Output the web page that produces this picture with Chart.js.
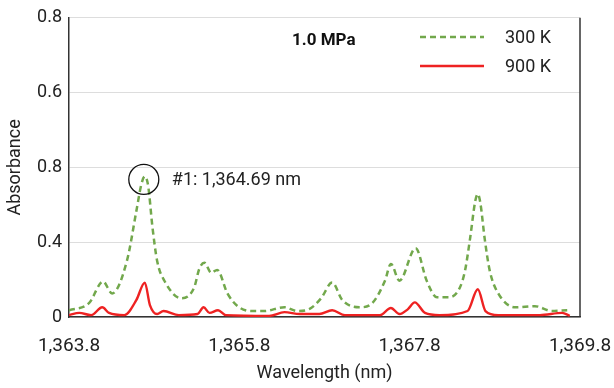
<!DOCTYPE html>
<html>
<head>
<meta charset="utf-8">
<script src="https://cdn.jsdelivr.net/npm/chart.js@4/dist/chart.umd.min.js"></script>
<style>
  html, body { margin: 0; padding: 0; background: #fff; }
  #wrap { width: 614px; height: 388px; position: relative; }
</style>
</head>
<body>
<div id="wrap"><canvas id="myChart"></canvas></div>
<script>
// wavelengths (nm) and absorbance
const wl300 = [1363.80, 1364.035, 1364.20, 1364.306, 1364.48, 1364.59, 1364.65, 1364.69, 1364.73, 1364.78, 1364.835, 1364.92,
  1365.12, 1365.27, 1365.33, 1365.39, 1365.47, 1365.54, 1365.66, 1365.78, 1365.94, 1366.09,
  1366.33, 1366.48, 1366.62, 1366.76, 1366.89, 1367.01, 1367.21, 1367.36, 1367.51, 1367.58,
  1367.68, 1367.87, 1368.00, 1368.12, 1368.27, 1368.39, 1368.45, 1368.51, 1368.57, 1368.60, 1368.63, 1368.68,
  1368.74, 1368.84, 1369.04, 1369.27, 1369.47, 1369.65];
const abs300 = [0.018, 0.037, 0.095, 0.063, 0.150, 0.282, 0.355, 0.376, 0.350, 0.240, 0.150, 0.097,
  0.050, 0.079, 0.129, 0.145, 0.118, 0.126, 0.063, 0.029, 0.016, 0.016,
  0.026, 0.016, 0.021, 0.050, 0.092, 0.045, 0.026, 0.037, 0.097, 0.142,
  0.097, 0.184, 0.097, 0.053, 0.053, 0.079, 0.124, 0.211, 0.310, 0.329, 0.305, 0.211,
  0.124, 0.063, 0.026, 0.029, 0.016, 0.018];

const wl900 = [1363.80, 1363.92, 1364.06, 1364.19, 1364.27, 1364.45, 1364.59, 1364.69, 1364.75, 1364.835,
  1364.91, 1365.09, 1365.31, 1365.38, 1365.45, 1365.55, 1365.64, 1366.15, 1366.33, 1366.51,
  1366.74, 1366.89, 1367.04, 1367.45, 1367.58, 1367.68, 1367.78, 1367.86, 1367.98, 1368.15,
  1368.48, 1368.60, 1368.69, 1368.84, 1369.33, 1369.59, 1369.68];
const abs900 = [0.005, 0.011, 0.005, 0.026, 0.011, 0.005, 0.045, 0.092, 0.032, 0.008,
  0.016, 0.005, 0.008, 0.026, 0.011, 0.018, 0.005, 0.003, 0.013, 0.008,
  0.008, 0.018, 0.005, 0.005, 0.024, 0.008, 0.021, 0.039, 0.011, 0.005,
  0.016, 0.074, 0.016, 0.005, 0.005, 0.011, 0.003];

const xTicks = [1363.8, 1365.8, 1367.8, 1369.8];
const yTickLabels = ['0', '0.4', '0.8', '0.6', '0.8'];
const seriesNames = ['300 K', '900 K'];
const peakWl = 1364.69;
const peakLabel = '#1: 1,364.69 nm';
const pressureLabel = '1.0 MPa';

const green = '#72a84c';
const red = '#ee2222';
const FONT = 'Roboto, "Liberation Sans", sans-serif';

function pts(xs, ys) {
  return xs.map((x, i) => ({ x: x, y: ys[i] }));
}

const overlay = {
  id: 'overlay',
  afterDraw(chart) {
    const ctx = chart.ctx;
    const area = chart.chartArea;
    const xs = chart.scales.x;
    const ys = chart.scales.y;
    ctx.save();
    // right frame line
    ctx.strokeStyle = '#333';
    ctx.lineWidth = 1.5;
    ctx.beginPath();
    ctx.moveTo(area.right, area.top);
    ctx.lineTo(area.right, area.bottom);
    ctx.stroke();

    // pressure label
    ctx.fillStyle = '#111';
    ctx.font = 'bold 17px ' + FONT;
    ctx.textBaseline = 'middle';
    ctx.textAlign = 'left';
    ctx.fillText(pressureLabel, 292, 41);

    // legend
    const legendItems = [
      { name: seriesNames[0], color: green, dash: [6, 4], width: 2.5, y: 37 },
      { name: seriesNames[1], color: red, dash: [], width: 2.5, y: 66 }
    ];
    legendItems.forEach(it => {
      ctx.strokeStyle = it.color;
      ctx.lineWidth = it.width;
      ctx.setLineDash(it.dash);
      ctx.beginPath();
      ctx.moveTo(420, it.y);
      ctx.lineTo(484, it.y);
      ctx.stroke();
      ctx.setLineDash([]);
      ctx.fillStyle = '#222';
      ctx.font = '18px ' + FONT;
      ctx.fillText(it.name, 505, it.y + 1);
    });

    // peak marker
    const idx = wl300.indexOf(peakWl);
    const cx = xs.getPixelForValue(peakWl) - 1;
    const cy = ys.getPixelForValue(abs300[idx]) + 3;
    ctx.strokeStyle = '#111';
    ctx.lineWidth = 1.3;
    ctx.beginPath();
    ctx.arc(cx, cy, 15, 0, Math.PI * 2);
    ctx.stroke();
    ctx.fillStyle = '#222';
    ctx.font = '18px ' + FONT;
    ctx.fillText(peakLabel, cx + 28, cy + 1);
    ctx.restore();
  }
};

const data = {
  datasets: [{
    label: seriesNames[0],
    data: pts(wl300, abs300),
    borderColor: green,
    borderWidth: 2.5,
    borderDash: [6, 4],
    pointRadius: 0,
    cubicInterpolationMode: 'monotone',
    order: 2
  }, {
    label: seriesNames[1],
    data: pts(wl900, abs900),
    borderColor: red,
    borderWidth: 2.4,
    pointRadius: 0,
    cubicInterpolationMode: 'monotone',
    order: 1
  }]
};

const config = {
  type: 'line',
  data: data,
  options: {
    responsive: false,
    animation: false,
    layout: { padding: { top: 14, right: 34, left: 0, bottom: 0 } },
    plugins: { legend: { display: false }, tooltip: { enabled: false } },
    scales: {
      x: {
        type: 'linear',
        min: 1363.8,
        max: 1369.8,
        afterBuildTicks: axis => { axis.ticks = xTicks.map(v => ({ value: v })); },
        afterFit: axis => {
          axis.height = 71;
          axis.paddingLeft = 0;
          axis.paddingRight = 0;
        },
        ticks: {
          color: '#222',
          font: { family: FONT, size: 19 },
          padding: 18,
          maxRotation: 0,
          callback: v => v.toLocaleString('en-US', { minimumFractionDigits: 1, maximumFractionDigits: 1 })
        },
        grid: { display: false, drawTicks: false },
        border: { color: '#333', width: 1.5 },
        title: {
          display: true,
          text: 'Wavelength (nm)',
          color: '#222',
          font: { family: FONT, size: 18 },
          padding: { top: 0, bottom: 4 }
        }
      },
      y: {
        min: 0,
        max: 0.8,
        afterFit: axis => { axis.width = 69; },
        ticks: {
          stepSize: 0.2,
          color: '#222',
          font: { family: FONT, size: 18 },
          padding: 7,
          callback: (v, i) => yTickLabels[i]
        },
        grid: { color: '#dddddd', lineWidth: 1, drawTicks: false },
        border: { color: '#333', width: 1.5 },
        title: {
          display: true,
          text: 'Absorbance',
          color: '#222',
          font: { family: FONT, size: 18 },
          padding: { top: 5, bottom: 2 }
        }
      }
    }
  },
  plugins: [overlay]
};

const canvas = document.getElementById('myChart');
canvas.width = 614;
canvas.height = 388;
const myChart = new Chart(canvas, config);
</script>
</body>
</html>
